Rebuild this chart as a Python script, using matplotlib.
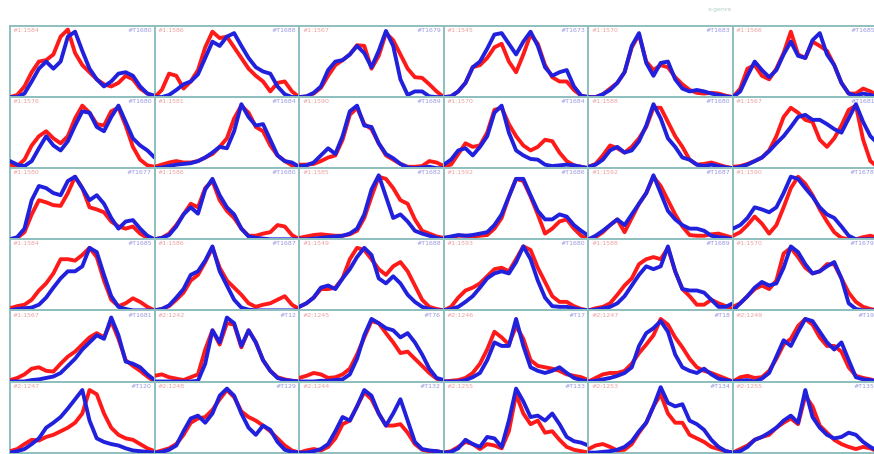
import matplotlib
matplotlib.use('Agg')
import matplotlib.pyplot as plt
import numpy as np

# curve heights per panel (fraction of panel height), 21 samples across each panel
red_1 = [
    [0, .03, .15, .35, .5, .52, .6, .85, .95, .62, .45, .35, .25, .18, .15, .2, .3, .25, .12, .05, 0],
    [0, .1, .33, .3, .12, .22, .38, .7, .92, .83, .85, .7, .55, .4, .3, .22, .08, .2, .22, .08, 0],
    [0, .01, .05, .13, .3, .45, .52, .6, .73, .72, .4, .58, .9, .8, .6, .4, .28, .27, .18, .08, 0],
    [0, .01, .08, .2, .42, .45, .55, .7, .75, .5, .35, .6, .88, .75, .45, .28, .22, .22, .1, .02, 0],
    [0, 0, .04, .12, .2, .35, .7, .88, .5, .38, .45, .42, .28, .18, .1, .06, .05, .06, .05, .02, 0],
    [0, .12, .4, .45, .3, .25, .4, .62, .92, .6, .55, .78, .72, .65, .45, .2, .05, .05, .12, .08, .02],
]
blue_1 = [
    [0, 0, .05, .22, .4, .5, .4, .5, .85, .92, .65, .4, .25, .15, .22, .33, .35, .3, .15, .05, .02],
    [0, 0, .03, .1, .18, .22, .32, .55, .78, .72, .85, .9, .72, .55, .42, .36, .33, .15, .04, 0, 0],
    [0, .01, .06, .15, .38, .5, .52, .6, .72, .62, .42, .65, .93, .72, .25, .03, .08, .08, .01, 0, 0],
    [0, .01, .08, .2, .42, .5, .68, .88, .9, .75, .6, .78, .92, .72, .42, .3, .35, .38, .15, .02, 0],
    [0, 0, .04, .1, .2, .35, .72, .9, .48, .3, .48, .5, .25, .12, .08, .1, .08, .05, .03, .01, 0],
    [0, .08, .3, .5, .38, .28, .38, .6, .78, .58, .55, .8, .9, .6, .45, .2, .05, .02, .05, .03, 0],
]
red_2 = [
    [.05, .03, .12, .32, .45, .52, .42, .35, .45, .7, .88, .78, .62, .6, .8, .85, .6, .3, .12, .04, .02],
    [.02, .05, .08, .1, .08, .08, .1, .15, .2, .3, .42, .7, .88, .78, .58, .52, .32, .18, .1, .04, 0],
    [.05, .05, .06, .1, .15, .18, .4, .75, .85, .62, .55, .35, .18, .12, .06, .02, .02, .03, .1, .08, .03],
    [.03, .05, .2, .35, .3, .32, .5, .82, .85, .62, .45, .32, .25, .3, .4, .38, .22, .1, .04, .02, 0],
    [.02, .06, .18, .32, .28, .22, .3, .42, .58, .85, .85, .65, .45, .3, .12, .05, .06, .08, .05, .02, 0],
    [.02, .03, .06, .1, .15, .25, .45, .72, .85, .78, .68, .65, .4, .3, .42, .6, .82, .88, .4, .1, .02],
]
blue_2 = [
    [.1, .05, .03, .1, .28, .45, .32, .25, .38, .6, .8, .78, .58, .52, .72, .88, .65, .42, .32, .25, .15],
    [0, .01, .03, .05, .06, .07, .1, .15, .22, .3, .28, .52, .9, .72, .6, .62, .4, .18, .1, .08, .02],
    [.03, .04, .08, .18, .28, .2, .45, .8, .88, .6, .58, .35, .2, .14, .06, .01, 0, .01, .02, 0, 0],
    [.05, .12, .25, .28, .18, .3, .45, .78, .88, .5, .25, .18, .13, .12, .05, .03, .04, .05, .04, .02, 0],
    [.02, .05, .12, .25, .3, .22, .25, .38, .6, .9, .7, .42, .3, .15, .12, .05, .03, .05, .03, .01, 0],
    [0, .02, .05, .1, .15, .24, .35, .45, .58, .72, .75, .68, .68, .62, .55, .5, .7, .9, .65, .45, .35],
]
red_3 = [
    [0, .02, .1, .35, .55, .52, .48, .47, .65, .88, .72, .45, .42, .38, .25, .18, .15, .18, .08, .02, 0],
    [0, .02, .08, .2, .35, .5, .45, .72, .82, .55, .4, .3, .15, .05, .05, .08, .1, .2, .18, .06, 0],
    [.02, .04, .06, .07, .06, .05, .05, .07, .12, .3, .6, .88, .85, .72, .55, .5, .28, .12, .08, .04, .02],
    [.02, .03, .05, .05, .04, .05, .06, .15, .3, .6, .85, .82, .6, .35, .08, .15, .25, .28, .15, .05, 0],
    [0, .03, .1, .2, .28, .1, .3, .5, .65, .88, .75, .55, .35, .18, .06, .05, .05, .07, .08, .05, .02],
    [.05, .1, .2, .32, .22, .08, .2, .45, .72, .88, .78, .62, .42, .25, .1, .02, 0, 0, .03, .05, .02],
]
blue_3 = [
    [0, .03, .15, .55, .75, .72, .65, .62, .82, .88, .72, .55, .62, .5, .3, .15, .25, .27, .15, .05, 0],
    [0, .02, .06, .18, .35, .45, .36, .7, .85, .62, .45, .35, .15, .04, .02, .01, 0, 0, 0, 0, 0],
    [0, 0, .01, .02, .03, .04, .05, .08, .15, .35, .7, .9, .6, .3, .35, .25, .12, .08, .05, .02, 0],
    [.02, .04, .06, .05, .06, .08, .1, .2, .35, .6, .85, .85, .62, .4, .28, .28, .35, .32, .2, .12, .05],
    [0, .05, .12, .2, .28, .2, .35, .5, .65, .9, .65, .4, .28, .2, .15, .15, .12, .05, .03, .02, 0],
    [.15, .2, .3, .45, .42, .38, .45, .65, .88, .85, .72, .6, .45, .35, .3, .18, .05, 0, 0, 0, 0],
]
red_4 = [
    [.03, .06, .08, .15, .28, .38, .52, .72, .72, .7, .78, .88, .75, .42, .15, .06, .1, .17, .12, .05, 0],
    [0, .02, .06, .15, .25, .42, .5, .68, .88, .6, .42, .32, .22, .1, .05, .08, .1, .15, .2, .08, .02],
    [.05, .1, .18, .3, .3, .32, .45, .72, .88, .85, .72, .58, .5, .62, .68, .55, .35, .15, .05, .02, 0],
    [0, .05, .18, .28, .32, .38, .48, .58, .6, .55, .72, .9, .85, .6, .4, .2, .12, .12, .06, .02, 0],
    [0, .03, .05, .1, .22, .35, .45, .65, .72, .75, .72, .88, .55, .3, .2, .08, .08, .15, .1, .06, .02],
    [.05, .1, .2, .3, .35, .3, .42, .8, .88, .75, .6, .52, .55, .65, .65, .45, .25, .12, .05, .02, 0],
]
blue_4 = [
    [0, .02, .03, .04, .08, .18, .32, .45, .55, .55, .62, .88, .82, .5, .2, .05, .02, 0, 0, 0, 0],
    [0, .02, .07, .18, .3, .5, .55, .7, .9, .55, .35, .15, .04, .01, 0, 0, 0, 0, 0, 0, 0],
    [.05, .1, .18, .32, .35, .3, .45, .58, .75, .88, .78, .45, .38, .48, .38, .22, .12, .05, .02, 0, 0],
    [0, .02, .05, .12, .2, .32, .45, .52, .55, .52, .68, .9, .72, .42, .18, .06, .05, .05, .03, .01, 0],
    [0, .01, .03, .05, .1, .2, .35, .5, .62, .58, .62, .9, .55, .3, .28, .28, .25, .15, .05, .05, .1],
    [0, .1, .2, .32, .4, .35, .38, .6, .9, .82, .65, .52, .55, .62, .68, .45, .1, .02, 0, 0, 0],
]
red_5 = [
    [.02, .05, .1, .18, .2, .15, .14, .25, .35, .42, .52, .62, .68, .62, .85, .6, .3, .22, .15, .07, 0],
    [.08, .1, .06, .04, .02, .06, .1, .45, .72, .52, .82, .8, .48, .72, .55, .3, .15, .06, .03, .01, 0],
    [.05, .08, .12, .1, .05, .06, .1, .18, .38, .62, .85, .82, .68, .55, .4, .42, .32, .22, .12, .04, 0],
    [0, .01, .02, .05, .12, .25, .45, .7, .62, .52, .78, .6, .3, .22, .2, .18, .15, .1, .08, .06, .02],
    [0, .05, .1, .12, .12, .15, .25, .4, .52, .65, .88, .8, .62, .48, .32, .2, .15, .12, .08, .04, 0],
    [0, .06, .08, .05, .06, .15, .32, .52, .6, .78, .88, .8, .62, .5, .5, .42, .2, .08, .05, .03, 0],
]
blue_5 = [
    [0, 0, 0, .02, .03, .05, .07, .12, .22, .32, .45, .55, .65, .6, .9, .65, .28, .25, .2, .1, .02],
    [0, 0, 0, 0, 0, 0, .01, .25, .72, .55, .9, .82, .5, .72, .55, .3, .15, .05, .02, .01, 0],
    [0, 0, 0, .01, .01, .02, .03, .1, .32, .65, .88, .82, .75, .72, .62, .68, .55, .38, .18, .05, .02],
    [0, 0, 0, .02, .06, .12, .3, .55, .5, .5, .88, .5, .2, .15, .12, .15, .2, .12, .05, .02, 0],
    [0, .01, .03, .05, .08, .12, .2, .5, .68, .75, .85, .7, .38, .2, .15, .12, .18, .1, .04, .02, 0],
    [0, .01, .02, 0, .04, .12, .35, .58, .5, .7, .88, .85, .7, .55, .45, .55, .3, .06, .03, .02, 0],
]
red_6 = [
    [.02, .05, .12, .18, .17, .22, .25, .3, .35, .42, .55, .88, .82, .55, .35, .25, .2, .18, .12, .06, .02],
    [0, .03, .06, .12, .25, .42, .48, .5, .6, .75, .88, .78, .58, .5, .45, .38, .3, .2, .1, .03, 0],
    [0, .03, .05, .03, .08, .2, .4, .45, .65, .85, .75, .55, .38, .38, .4, .28, .12, .04, .02, .02, 0],
    [0, .02, .08, .15, .12, .05, .12, .1, .06, .3, .82, .55, .4, .45, .28, .3, .18, .08, .04, .02, 0],
    [.05, .1, .12, .08, .03, .04, .12, .28, .42, .65, .82, .55, .42, .42, .25, .2, .15, .08, .05, .02, 0],
    [0, .05, .1, .18, .22, .25, .35, .42, .48, .4, .8, .65, .38, .28, .18, .12, .08, .05, .08, .06, .02],
]
blue_6 = [
    [0, .02, .05, .12, .2, .35, .42, .5, .62, .75, .88, .45, .2, .15, .12, .1, .06, .03, .02, .01, 0],
    [0, .01, .04, .1, .3, .48, .52, .42, .55, .8, .9, .8, .55, .35, .25, .38, .32, .15, .04, .01, 0],
    [0, 0, .02, .05, .12, .3, .5, .45, .65, .88, .8, .55, .38, .55, .75, .45, .15, .05, .03, .02, 0],
    [0, .01, .06, .18, .12, .08, .22, .2, .08, .45, .9, .72, .5, .52, .45, .55, .4, .22, .16, .14, .1],
    [0, 0, .01, .02, .04, .08, .16, .3, .42, .65, .92, .7, .65, .68, .45, .4, .32, .18, .08, .02, 0],
    [0, .02, .08, .18, .22, .28, .35, .45, .52, .42, .88, .5, .35, .25, .2, .22, .28, .25, .15, .08, .02],
]

left_labels = [
    ['#1:1584', '#1:1586', '#1:1567', '#1:1545', '#1:1570', '#1:1566'],
    ['#1:1576', '#1:1581', '#1:1590', '#1:1570', '#1:1588', '#1:1567'],
    ['#1:1580', '#1:1586', '#1:1585', '#1:1592', '#1:1592', '#1:1590'],
    ['#1:1584', '#1:1586', '#1:1549', '#1:1593', '#1:1588', '#1:1570'],
    ['#1:1567', '#2:1242', '#2:1245', '#2:1246', '#2:1247', '#2:1249'],
    ['#2:1247', '#2:1248', '#2:1244', '#2:1255', '#2:1253', '#2:1255'],
]
right_labels = [
    ['#T1680', '#T1688', '#T1679', '#T1673', '#T1683', '#T1685'],
    ['#T1680', '#T1684', '#T1689', '#T1684', '#T1680', '#T1681'],
    ['#T1677', '#T1680', '#T1682', '#T1686', '#T1687', '#T1678'],
    ['#T1685', '#T1687', '#T1688', '#T1680', '#T1689', '#T1679'],
    ['#T1681', '#T12', '#T76', '#T17', '#T18', '#T19'],
    ['#T120', '#T129', '#T132', '#T133', '#T134', '#T135'],
]

reds = [red_1, red_2, red_3, red_4, red_5, red_6]
blues = [blue_1, blue_2, blue_3, blue_4, blue_5, blue_6]

W, H = 874, 454
fig = plt.figure(figsize=(W / 100, H / 100), dpi=100)
fig.patch.set_facecolor('white')

x0, y0 = 10, 26
pw, ph = 144.6, 71.1
grid_col = '#8fbfbf'

for r in range(6):
    for c in range(6):
        left = x0 + c * pw
        top = y0 + r * ph
        ax = fig.add_axes([left / W, 1 - (top + ph) / H, pw / W, ph / H])
        red = reds[r][c]
        blue = blues[r][c]
        xs = np.linspace(0, 1, len(red))
        ax.plot(xs, red, color='#ff1a1a', lw=2.8, solid_joinstyle='round', solid_capstyle='round')
        ax.plot(xs, blue, color='#2020dd', lw=2.8, solid_joinstyle='round', solid_capstyle='round')
        ax.set_xlim(0, 1)
        ax.set_ylim(0, 1)
        ax.set_xticks([])
        ax.set_yticks([])
        for s in ax.spines.values():
            s.set_color(grid_col)
            s.set_linewidth(1.4)
            s.set_zorder(0)
        ax.patch.set_alpha(0)
        ax.text(0.02, 0.97, left_labels[r][c], transform=ax.transAxes, fontsize=4.5,
                color='#e06060', alpha=0.6, ha='left', va='top')
        ax.text(0.98, 0.97, right_labels[r][c], transform=ax.transAxes, fontsize=4.5,
                color='#5050d0', alpha=0.6, ha='right', va='top')

fig.text(720 / W, 1 - 9 / H, 'x-genre', fontsize=4.5, color='#80b0a0', alpha=0.6,
         ha='center', va='center')

fig.savefig('out.png', dpi=100)
